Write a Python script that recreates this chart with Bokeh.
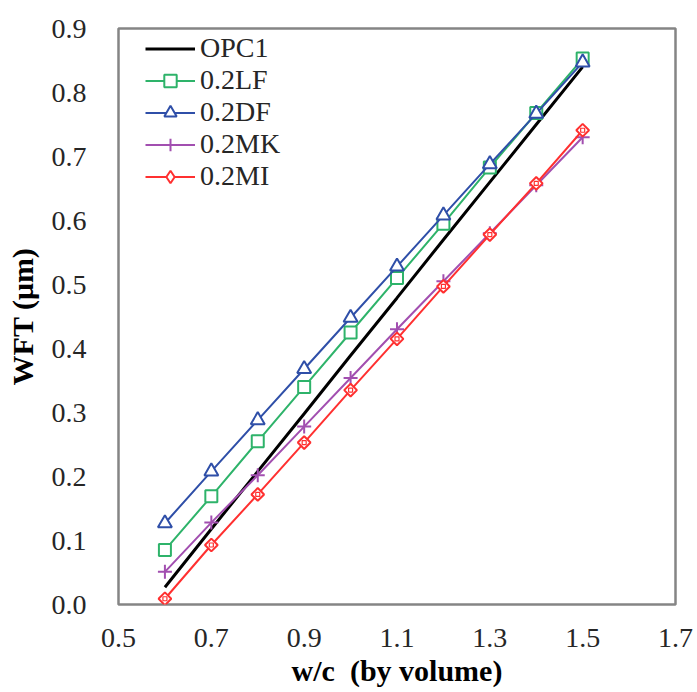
import math
from bokeh.plotting import figure
from bokeh.models import Legend, LegendItem, FixedTicker, NumeralTickFormatter, Range1d
from bokeh.embed import file_html
from bokeh.resources import INLINE

wc = [0.6, 0.7, 0.8, 0.9, 1.0, 1.1, 1.2, 1.3, 1.4, 1.5]
opc1 = [0.027, 0.118, 0.208, 0.298, 0.389, 0.479, 0.570, 0.660, 0.750, 0.840]
lf02 = [0.085, 0.169, 0.255, 0.340, 0.425, 0.510, 0.595, 0.683, 0.768, 0.853]
df02 = [0.127, 0.208, 0.288, 0.368, 0.448, 0.528, 0.608, 0.688, 0.767, 0.847]
mk02 = [0.051, 0.128, 0.202, 0.278, 0.354, 0.430, 0.505, 0.580, 0.655, 0.730]
mi02 = [0.009, 0.093, 0.172, 0.253, 0.335, 0.415, 0.497, 0.578, 0.658, 0.741]

x_ticks = [0.5, 0.7, 0.9, 1.1, 1.3, 1.5, 1.7]
y_ticks = [0.0, 0.1, 0.2, 0.3, 0.4, 0.5, 0.6, 0.7, 0.8, 0.9]

FONT = "Liberation Serif"

p = figure(width=697, height=692, output_backend="svg", toolbar_location=None,
           x_range=Range1d(0.5, 1.7), y_range=Range1d(0.0, 0.9),
           min_border_left=118, min_border_right=22, min_border_top=28, min_border_bottom=88)
p.xgrid.visible = False
p.ygrid.visible = False
p.outline_line_color = "#858585"
p.outline_line_width = 2.5
p.background_fill_color = "white"
p.border_fill_color = "white"

for ax in (p.xaxis[0], p.yaxis[0]):
    ax.axis_line_color = None
    ax.major_tick_line_color = None
    ax.minor_tick_line_color = None
    ax.major_label_text_font = FONT
    ax.major_label_text_font_size = "28px"
    ax.major_label_text_color = "#262626"
    ax.axis_label_text_font = FONT
    ax.axis_label_text_font_size = "30px"
    ax.axis_label_text_font_style = "bold"
    ax.axis_label_text_color = "black"
    ax.formatter = NumeralTickFormatter(format="0.0")

p.xaxis[0].ticker = FixedTicker(ticks=x_ticks)
p.yaxis[0].ticker = FixedTicker(ticks=y_ticks)
p.xaxis[0].axis_label = "w/c\u00a0\u00a0(by volume)"
p.yaxis[0].axis_label = "WFT (μm)"
p.xaxis[0].major_label_standoff = 18
p.yaxis[0].major_label_standoff = 26
p.xaxis[0].axis_label_standoff = 4
p.yaxis[0].axis_label_standoff = 10

black = "#000000"
green = "#2eb36a"
blue = "#2f4fa8"
purple = "#a24fb0"
red = "#ff3030"

r_opc = p.line(wc, opc1, line_color=black, line_width=3)

r_lf_l = p.line(wc, lf02, line_color=green, line_width=2)
r_lf_m = p.scatter(wc, lf02, marker="square", size=12, line_color=green, fill_color="white", line_width=2)

r_df_l = p.line(wc, df02, line_color=blue, line_width=2)
r_df_m = p.scatter(wc, df02, marker="triangle", size=14, line_color=blue, fill_color="white", line_width=2)

r_mk_l = p.line(wc, mk02, line_color=purple, line_width=2)
r_mk_m = p.scatter(wc, mk02, marker="cross", size=14, line_color=purple, line_width=2)

r_mi_l = p.line(wc, mi02, line_color=red, line_width=2)
r_mi_m = p.scatter(wc, mi02, marker="square", size=9, angle=math.pi / 4, line_color=red, fill_color="white", line_width=2)
r_mi_s = p.scatter(wc, mi02, marker="square", size=4, line_color=red, fill_color="white", line_width=1.2)
# legend-only diamond glyph for 0.2MI, placed outside the visible ranges
r_mi_leg = p.scatter([-10.0], [-10.0], marker="diamond", size=15, line_color=red, fill_color="white", line_width=2)

legend = Legend(items=[
    LegendItem(label="OPC1", renderers=[r_opc]),
    LegendItem(label="0.2LF", renderers=[r_lf_l, r_lf_m]),
    LegendItem(label="0.2DF", renderers=[r_df_l, r_df_m]),
    LegendItem(label="0.2MK", renderers=[r_mk_l, r_mk_m]),
    LegendItem(label="0.2MI", renderers=[r_mi_l, r_mi_leg]),
], location=(27, 576 - 9 - 5 * 31))
legend.border_line_color = None
legend.background_fill_alpha = 0
legend.label_text_font = FONT
legend.label_text_font_size = "28px"
legend.label_text_color = "#262626"
legend.glyph_width = 50
legend.glyph_height = 31
legend.label_height = 31
legend.spacing = 0
legend.label_standoff = 5
legend.margin = 0
legend.padding = 0
p.add_layout(legend)

open("out.html", "w").write(file_html(p, INLINE))
